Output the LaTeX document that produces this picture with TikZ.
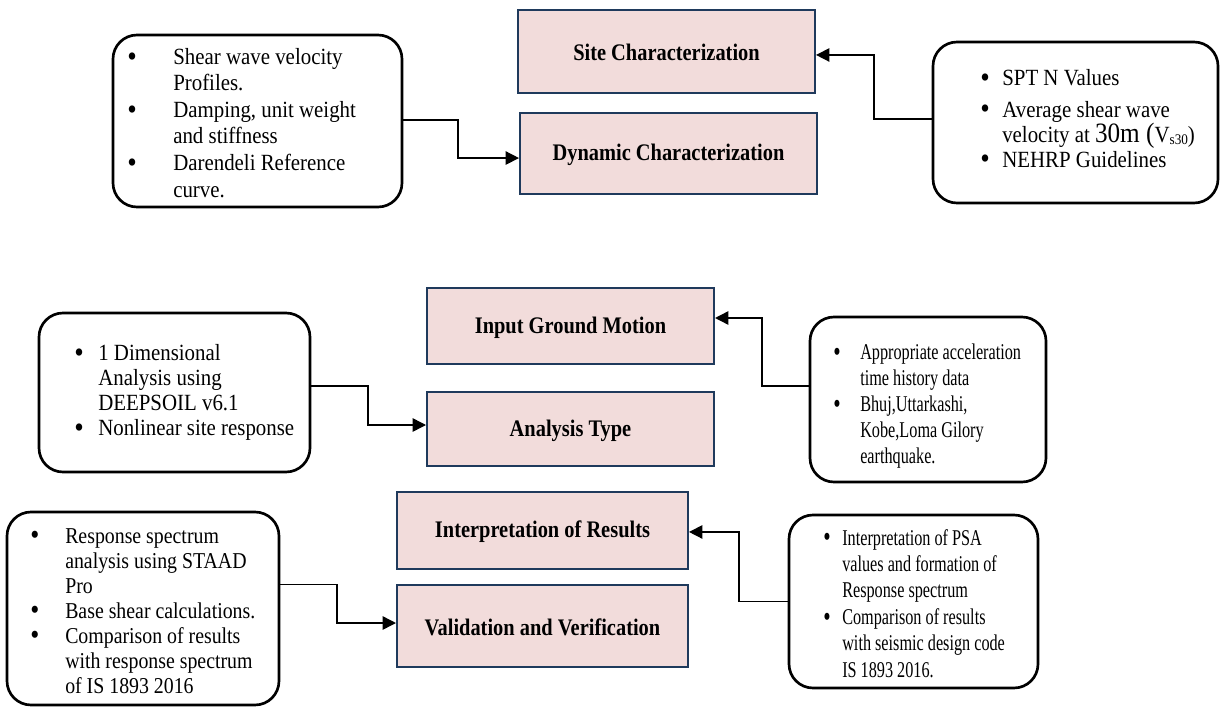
\documentclass[tikz,border=0pt]{standalone}
\usepackage{graphicx}
\usepackage{fontspec}
\setmainfont{Liberation Serif}
\newfontfamily\fA[FakeStretch=0.9]{Liberation Serif}
\newfontfamily\fB[FakeStretch=0.875]{Liberation Serif}
\newfontfamily\fC[FakeStretch=0.72]{Liberation Serif}
\newfontfamily\fP[FakeStretch=0.86]{Liberation Serif}
\usetikzlibrary{arrows.meta,fit}
\definecolor{pinkfill}{HTML}{F2DCDB}
\definecolor{pinkedge}{HTML}{1F3A5C}
\newcommand{\bul}[1]{\makebox[#1][l]{\raisebox{-0.08em}{\scalebox{1.3}{\textbullet}}}}
\newcommand{\hang}[1]{\hspace*{#1}}
\tikzset{
  pbox/.style={draw=pinkedge, line width=1.5pt, fill=pinkfill, inner sep=0pt},
  ptext/.style={font={\fP\bfseries\fontsize{17.8}{20}\selectfont}, inner sep=0pt},
  rbox/.style={draw=black, line width=2pt, rounded corners=18pt, inner sep=0pt},
  conn/.style={line width=1.1pt, -{Triangle[length=10pt,width=10pt]}},
  btext/.style={anchor=north west, inner sep=0pt, align=left}
}
\begin{document}
\begin{tikzpicture}[x=0.75pt,y=-0.75pt]
\useasboundingbox (0,0) rectangle (1223,706);

% pink process boxes
\node[pbox, fit={(518,10) (815,93)}] (site) {};
\node[pbox, fit={(520,113) (817,194)}] (dyn) {};
\node[pbox, fit={(427,288) (714,364)}] (igm) {};
\node[pbox, fit={(427,392) (714,466)}] (at) {};
\node[pbox, fit={(397,492) (688,569)}] (ir) {};
\node[pbox, fit={(397,585) (688,667)}] (vv) {};
\node[ptext] (sitet) at ([yshift=-1pt]site.center) {Site Characterization};
\node[ptext] (dynt) at ([yshift=-1pt]dyn.center) {Dynamic Characterization};
\node[ptext] (igmt) at ([yshift=-1pt]igm.center) {Input Ground Motion};
\node[ptext] (att) at ([yshift=-1pt]at.center) {Analysis Type};
\node[ptext] (irt) at ([yshift=-1pt]ir.center) {Interpretation of Results};
\node[ptext] (vvt) at ([yshift=-1pt]vv.center) {Validation and Verification};

% rounded info boxes
\node[rbox, fit={(113,35) (402,207)}] (lt) {};
\node[rbox, fit={(933,42) (1218,203)}] (rt) {};
\node[rbox, fit={(39,313) (310,472)}] (lm) {};
\node[rbox, fit={(810,317) (1046,482)}] (rm) {};
\node[rbox, fit={(7,512) (279,705)}] (lb) {};
\node[rbox, fit={(789,515) (1038,688)}] (rb) {};

% texts
\node[btext, font={\fA\fontsize{17.4}{19.9}\selectfont}] (ltt) at (127,48)
 {\bul{34.5pt}Shear wave velocity\\
  \hang{34.5pt}Profiles.\\
  \bul{34.5pt}Damping, unit weight\\
  \hang{34.5pt}and stiffness\\
  \bul{34.5pt}Darendeli Reference\\
  \hang{34.5pt}curve.};

\node[btext, font={\fA\fontsize{17.4}{18.75}\selectfont}] (rtt) at (980,69)
 {\bul{16.5pt}SPT N Values\\[5pt]
  \bul{16.5pt}Average shear wave\\
  \hang{16.5pt}velocity at {\fontsize{21}{21}\selectfont 30m (}V\raisebox{-2pt}{\fontsize{11}{11}\selectfont s30})\\
  \bul{16.5pt}NEHRP Guidelines};

\node[btext, font={\fA\fontsize{17.4}{18.75}\selectfont}] (lmt) at (74,344)
 {\bul{18pt}1 Dimensional\\
  \hang{18pt}Analysis using\\
  \hang{18pt}DEEPSOIL v6.1\\
  \bul{18pt}Nonlinear site response};

\node[btext, font={\fC\fontsize{16.9}{19.5}\selectfont}] (rmt) at (833,343.5)
 {\bul{20.25pt}Appropriate acceleration\\
  \hang{20.25pt}time history data\\
  \bul{20.25pt}Bhuj,Uttarkashi,\\
  \hang{20.25pt}Kobe,Loma Gilory\\
  \hang{20.25pt}earthquake.};

\node[btext, font={\fB\fontsize{17}{18.75}\selectfont}] (lbt) at (30,528)
 {\bul{26.25pt}Response spectrum\\
  \hang{26.25pt}analysis using STAAD\\
  \hang{26.25pt}Pro\\
  \bul{26.25pt}Base shear calculations.\\
  \bul{26.25pt}Comparison of results\\
  \hang{26.25pt}with response spectrum\\
  \hang{26.25pt}of IS 1893 2016};

\node[btext, font={\fC\fontsize{16.9}{19.8}\selectfont}] (rbt) at (823,529)
 {\bul{14.25pt}Interpretation of PSA\\
  \hang{14.25pt}values and formation of\\
  \hang{14.25pt}Response spectrum\\
  \bul{14.25pt}Comparison of results\\
  \hang{14.25pt}with seismic design code\\
  \hang{14.25pt}IS 1893 2016.};

% connector bend points
\coordinate (m1) at (458,140);
\coordinate (m2) at (874,90);
\coordinate (m3) at (368,400);
\coordinate (m4) at (762,350);
\coordinate (m5) at (337,600);
\coordinate (m6) at (739,560);

\draw[conn] ([yshift=0.75pt]lt.east) -| (m1) |- ([yshift=-3.4pt]dyn.west);
\draw[conn] ([yshift=2.6pt]rt.west) -| (m2) |- ([yshift=-2.6pt]site.east);
\draw[conn] ([yshift=4.9pt]lm.east) -| (m3) |- ([yshift=3pt]at.west);
\draw[conn] ([yshift=10pt]rm.west) -| (m4) |- ([yshift=6pt]igm.east);
\draw[conn] ([yshift=18pt]lb.east) -| (m5) |- ([yshift=2.25pt]vv.west);
\draw[conn] (rb.west) -| (m6) |- ([yshift=-1.1pt]ir.east);
\end{tikzpicture}
\end{document}
